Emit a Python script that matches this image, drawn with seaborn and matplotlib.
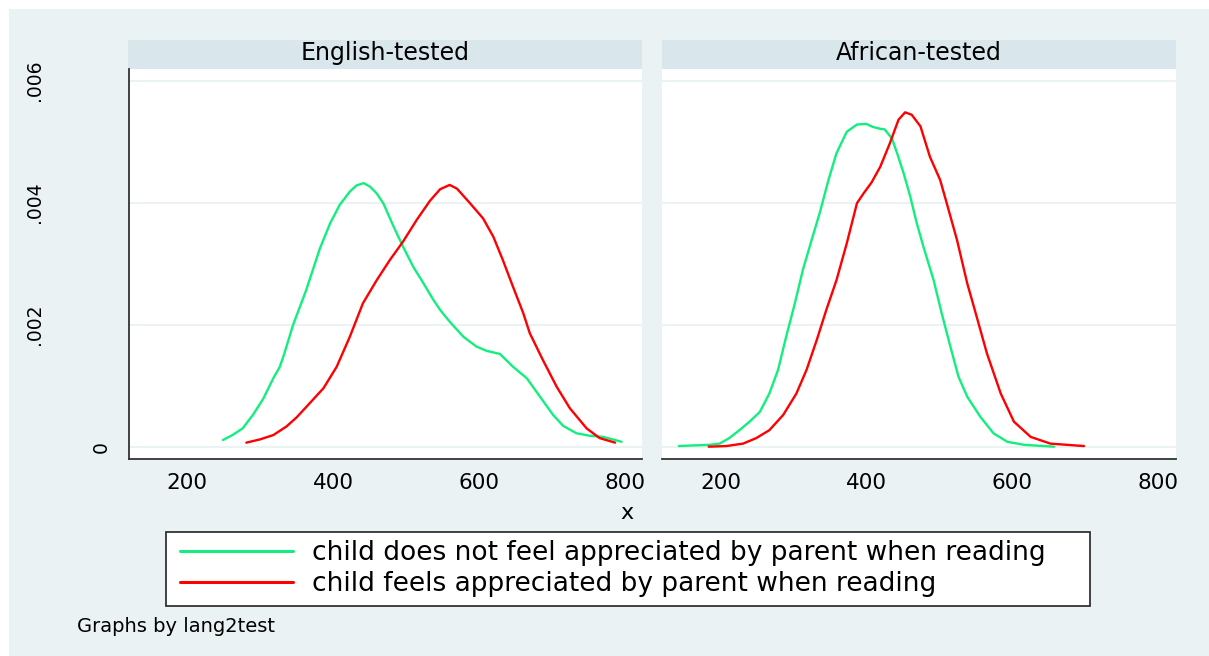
import pandas as pd
import matplotlib
matplotlib.use("Agg")
import matplotlib.pyplot as plt
from matplotlib.lines import Line2D
from matplotlib.patches import Rectangle
import seaborn as sns

panels = ["English-tested", "African-tested"]
groups = ["child does not feel appreciated by parent when reading",
          "child feels appreciated by parent when reading"]
colors = ["#12EF7F", "#FF0000"]

# Kernel density of the score, English-tested children
eng_not_x = [249, 262, 276, 290, 304, 318, 327, 333, 345, 363, 382, 396, 409, 423,
             432, 442, 451, 460, 469, 483, 496, 510, 524, 537, 547, 560, 579, 597,
             611, 629, 647, 666, 684, 702, 716, 734, 752, 771, 796]
eng_not_y = [0.00011, 0.00019, 0.00030, 0.00052, 0.00078, 0.00112, 0.00131, 0.00152,
             0.00199, 0.00256, 0.00325, 0.00366, 0.00396, 0.00418, 0.00428, 0.00432,
             0.00426, 0.00415, 0.00399, 0.00361, 0.00328, 0.00295, 0.00268, 0.00242,
             0.00224, 0.00205, 0.00180, 0.00164, 0.00157, 0.00152, 0.00131, 0.00112,
             0.00082, 0.00052, 0.00034, 0.00022, 0.00018, 0.00016, 0.00008]
eng_app_x = [281, 300, 318, 336, 350, 364, 387, 405, 423, 441, 460, 478, 496, 515,
             533, 547, 560, 570, 588, 606, 620, 633, 647, 661, 670, 688, 707, 725,
             748, 766, 787]
eng_app_y = [0.000066, 0.00012, 0.00019, 0.00033, 0.00048, 0.00066, 0.00096, 0.00131,
             0.00180, 0.00235, 0.00273, 0.00306, 0.00336, 0.00372, 0.00403, 0.00422,
             0.00429, 0.00423, 0.00399, 0.00374, 0.00344, 0.00306, 0.00262, 0.00219,
             0.00186, 0.00142, 0.00098, 0.00063, 0.00030, 0.00014, 0.000066]

# Kernel density of the score, African-tested children
afr_not_x = [143, 162, 185, 199, 212, 226, 240, 254, 267, 279, 290, 302, 313, 325,
             336, 348, 359, 373, 387, 400, 409, 419, 425, 435, 442, 451, 460, 469,
             478, 492, 503, 515, 526, 538, 556, 574, 593, 616, 657]
afr_not_y = [0.00001, 0.00002, 0.00003, 0.00005, 0.00014, 0.00027, 0.00041, 0.00057,
             0.00087, 0.00126, 0.00180, 0.00235, 0.00290, 0.00339, 0.00383, 0.00437,
             0.00481, 0.00516, 0.00528, 0.00529, 0.00524, 0.00521, 0.00520, 0.00505,
             0.00481, 0.00448, 0.00410, 0.00366, 0.00328, 0.00273, 0.00219, 0.00164,
             0.00115, 0.00082, 0.00049, 0.00022, 0.00008, 0.00003, 0.0]
afr_app_x = [184, 208, 231, 249, 267, 286, 304, 318, 332, 345, 359, 373, 387, 396,
             407, 419, 432, 444, 453, 462, 474, 487, 501, 510, 524, 538, 551, 565,
             584, 602, 625, 652, 698]
afr_app_y = [0.0, 0.00001, 0.00005, 0.00014, 0.00027, 0.00052, 0.00087, 0.00126,
             0.00175, 0.00224, 0.00273, 0.00333, 0.00399, 0.00415, 0.00433, 0.00459,
             0.00497, 0.00536, 0.00548, 0.00544, 0.00525, 0.00475, 0.00437, 0.00399,
             0.00339, 0.00268, 0.00213, 0.00153, 0.00087, 0.00041, 0.00016, 0.00005,
             0.00001]

yticks = [0, 0.002, 0.004, 0.006]
ytick_labels = ["0", ".002", ".004", ".006"]
xticks = [200, 400, 600, 800]
xtick_labels = ["200", "400", "600", "800"]

series = {
    (panels[0], groups[0]): (eng_not_x, eng_not_y),
    (panels[0], groups[1]): (eng_app_x, eng_app_y),
    (panels[1], groups[0]): (afr_not_x, afr_not_y),
    (panels[1], groups[1]): (afr_app_x, afr_app_y),
}
df = pd.concat(
    [pd.DataFrame({"panel": p, "group": g, "x": xs, "density": ys})
     for (p, g), (xs, ys) in series.items()],
    ignore_index=True,
)

sns.set_style("white")
plt.rcParams["font.family"] = ["DejaVu Sans"]
plt.rcParams["text.color"] = "black"

BG = "#EAF2F3"
STRIP = "#D9E6EB"
AXIS = "#333333"

W, H = 1209, 656
fig = plt.figure(figsize=(W / 100, H / 100), dpi=100)
fig.patch.set_facecolor("white")


def px_box(x0, y0, x1, y1):
    return [x0 / W, 1 - y1 / H, (x1 - x0) / W, (y1 - y0) / H]


fig.add_artist(Rectangle((9 / W, 0), 1 - 9 / W, 1 - 9 / H, transform=fig.transFigure,
                         facecolor=BG, edgecolor="none", zorder=-3))

boxes = [(129, 69, 642, 459), (662, 69, 1176, 459)]
strips = [(128, 40, 642, 69), (662, 40, 1176, 69)]

for i, panel in enumerate(panels):
    ax = fig.add_axes(px_box(*boxes[i]))
    ax.set_facecolor("white")
    sx0, sy0, sx1, sy1 = strips[i]
    fig.add_artist(Rectangle((sx0 / W, 1 - sy1 / H), (sx1 - sx0) / W, (sy1 - sy0) / H,
                             transform=fig.transFigure, facecolor=STRIP,
                             edgecolor="none", zorder=-2))
    sns.lineplot(data=df[df["panel"] == panel], x="x", y="density", hue="group",
                 hue_order=groups, palette=colors, sort=False, estimator=None,
                 linewidth=1.7, legend=False, ax=ax)
    ax.set_xlim(120, 824)
    ax.set_ylim(-0.000202, 0.00619)
    ax.set_xlabel("")
    ax.set_ylabel("")
    ax.set_title(panel, fontsize=17, pad=6.5, color="black")
    ax.set_xticks(xticks, xtick_labels)
    ax.tick_params(axis="x", length=5.8, width=1.1, color=AXIS, labelsize=15.5,
                   pad=4, labelcolor="black")
    ax.set_yticks(yticks)
    ax.yaxis.grid(True, color=BG, linewidth=1.4)
    ax.xaxis.grid(False)
    for side in ("top", "right"):
        ax.spines[side].set_visible(False)
    ax.spines["bottom"].set_color(AXIS)
    ax.spines["bottom"].set_linewidth(1.3)
    if i == 0:
        ax.set_yticklabels(ytick_labels)
        ax.spines["left"].set_color(AXIS)
        ax.spines["left"].set_linewidth(1.3)
        ax.tick_params(axis="y", length=7, width=1.1, color=AXIS, labelsize=13.5,
                       labelrotation=90, labelcolor="black")
        for lab in ax.get_yticklabels():
            lab.set_va("center")
            lab.set_ha("right")
        pads = [6.5, 54.4, 54.4, 54.4]
        for tick, p in zip(ax.yaxis.get_major_ticks(), pads):
            tick.set_pad(p)
    else:
        ax.spines["left"].set_visible(False)
        ax.tick_params(axis="y", left=False, labelleft=False)

fig.supxlabel("x", x=627 / W, y=1 - 519 / H, ha="center", va="baseline",
              fontsize=16, color="black")

# legend frame and entries
fig.add_artist(Rectangle((166 / W, 1 - 606 / H), (1090 - 166) / W, (606 - 532) / H,
                         transform=fig.transFigure, facecolor="white",
                         edgecolor="#222222", linewidth=1.2, zorder=2))
handles = [Line2D([], [], color=c, linewidth=2.2) for c in colors]
fig.legend(handles, groups, loc="center left",
           bbox_to_anchor=(180 / W, 1 - 568.5 / H), bbox_transform=fig.transFigure,
           frameon=False, fontsize=19, handlelength=4.3, handletextpad=0.7,
           labelspacing=0.2, borderpad=0, borderaxespad=0, labelcolor="black")

fig.text(77 / W, 1 - 632 / H, "Graphs by lang2test", ha="left", va="baseline",
         fontsize=14, color="black")

fig.savefig("out.png", dpi=100, facecolor=fig.get_facecolor())
